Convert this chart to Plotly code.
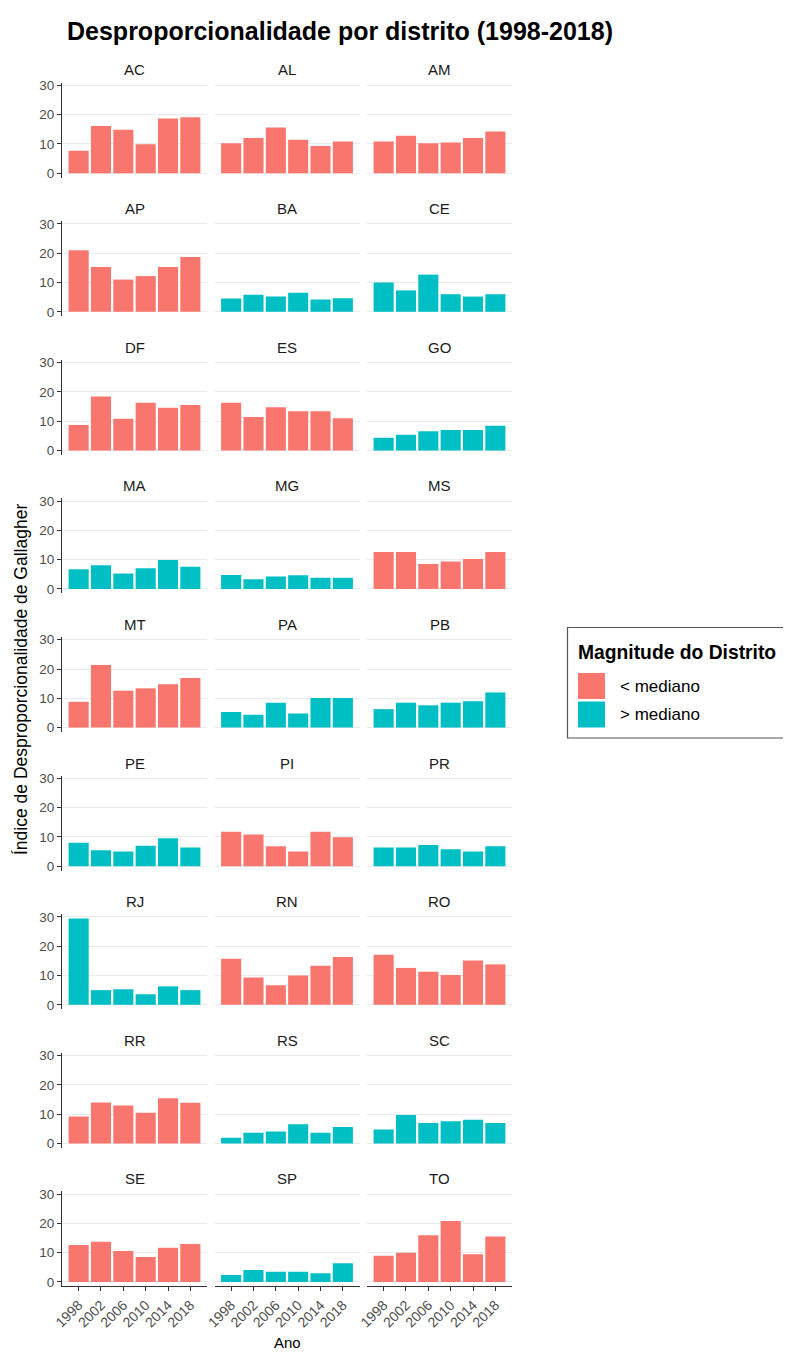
import plotly.graph_objects as go

# ---------------- data ----------------
years = [1998, 2002, 2006, 2010, 2014, 2018]
states = ["AC", "AL", "AM", "AP", "BA", "CE", "DF", "ES", "GO",
          "MA", "MG", "MS", "MT", "PA", "PB", "PE", "PI", "PR",
          "RJ", "RN", "RO", "RR", "RS", "SC", "SE", "SP", "TO"]
# magnitude group per state: "lt" = < mediano, "gt" = > mediano
magnitude = ["lt", "lt", "lt", "lt", "gt", "gt", "lt", "lt", "gt",
             "gt", "gt", "lt", "lt", "gt", "gt", "gt", "lt", "gt",
             "gt", "lt", "lt", "lt", "gt", "gt", "lt", "gt", "lt"]

ac = [7.7, 16.1, 14.8, 9.9, 18.7, 19.1]
al = [10.2, 12.0, 15.6, 11.4, 9.3, 10.8]
am = [10.8, 12.8, 10.2, 10.5, 12.0, 14.2]
ap = [21.0, 15.3, 11.0, 12.2, 15.3, 18.7]
ba = [4.5, 5.8, 5.2, 6.5, 4.2, 4.6]
ce = [10.0, 7.3, 12.7, 6.0, 5.2, 6.0]
df = [8.7, 18.4, 10.8, 16.3, 14.6, 15.5]
es = [16.3, 11.4, 14.7, 13.4, 13.4, 11.0]
go_ = [4.3, 5.3, 6.5, 7.0, 7.0, 8.4]
ma = [6.7, 8.1, 5.3, 7.1, 9.9, 7.6]
mg = [4.8, 3.3, 4.3, 4.7, 3.8, 3.8]
ms = [12.6, 12.6, 8.5, 9.4, 10.2, 12.6]
mt = [8.8, 21.4, 12.6, 13.4, 14.8, 16.9]
pa = [5.3, 4.4, 8.5, 4.8, 10.1, 10.1]
pb = [6.3, 8.5, 7.6, 8.5, 9.0, 12.0]
pe = [8.0, 5.4, 5.0, 7.0, 9.5, 6.4]
pi = [11.8, 10.8, 6.8, 5.0, 11.8, 9.9]
pr = [6.4, 6.4, 7.2, 5.8, 5.0, 6.8]
rj = [29.5, 5.0, 5.3, 3.6, 6.3, 5.0]
rn = [15.7, 9.3, 6.7, 10.0, 13.3, 16.3]
ro = [17.1, 12.6, 11.3, 10.2, 15.1, 13.8]
rr = [9.2, 14.0, 12.9, 10.5, 15.4, 13.9]
rs = [1.9, 3.6, 4.1, 6.5, 3.6, 5.6]
sc = [4.7, 9.7, 7.0, 7.6, 8.1, 7.0]
se = [12.6, 13.7, 10.6, 8.5, 11.7, 13.0]
sp = [2.4, 4.1, 3.5, 3.5, 3.0, 6.4]
to = [9.0, 10.0, 16.0, 20.8, 9.5, 15.5]

values = [ac, al, am, ap, ba, ce, df, es, go_, ma, mg, ms, mt, pa, pb,
          pe, pi, pr, rj, rn, ro, rr, rs, sc, se, sp, to]

group_labels = {"lt": "< mediano", "gt": "> mediano"}
y_ticks = [0, 10, 20, 30]
legend_title = "Magnitude do Distrito"
title_text = "Desproporcionalidade por distrito (1998-2018)"
y_title = "Índice de Desproporcionalidade de Gallagher"
x_title = "Ano"

# ---------------- styling / layout ----------------
# the page body keeps an 8px margin, so the figure is sized to fit inside it
OFF = 8
W, H = 791 - OFF, 1353 - OFF
colors = {"lt": "#F8766D", "gt": "#00BFC4"}
FONT = "Liberation Sans, Arial, sans-serif"

col_x = [(62, 207), (214.5, 359.5), (367, 512)]
row_top0, row_step, panel_h = 82.5, 138.6, 95.0
ncols = 3
nrows = 9

def fx(px):
    return (px - OFF) / W

def fy(py):
    return 1 - (py - OFF) / H

fig = go.Figure()
layout = {}
annotations = []

for i, st in enumerate(states):
    r, c = divmod(i, ncols)
    k = i + 1
    xa = "x" if k == 1 else f"x{k}"
    ya = "y" if k == 1 else f"y{k}"
    g = magnitude[i]
    fig.add_trace(go.Bar(
        x=years, y=values[i], width=3.6,
        marker=dict(color=colors[g], line=dict(width=0)),
        xaxis=xa, yaxis=ya, showlegend=False,
        hovertemplate=st + " %{x}: %{y}<extra></extra>",
    ))
    x0, x1 = col_x[c]
    top = row_top0 + r * row_step
    bot = top + panel_h
    bottom_row = (r == nrows - 1)
    left_col = (c == 0)
    xkey = "xaxis" if k == 1 else f"xaxis{k}"
    ykey = "yaxis" if k == 1 else f"yaxis{k}"
    layout[xkey] = dict(
        domain=[fx(x0), fx(x1)], anchor=ya, range=[1995.02, 2020.98],
        automargin=False,
        showgrid=False, zeroline=False,
        showline=bottom_row, linecolor="#333333", linewidth=1.2,
        ticks="outside" if bottom_row else "", ticklen=4, tickcolor="#333333",
        tickvals=years, ticktext=[str(v) for v in years],
        showticklabels=bottom_row, tickangle=-45,
        tickfont=dict(family=FONT, size=14, color="#4D4D4D"),
        fixedrange=True,
    )
    layout[ykey] = dict(
        domain=[fy(bot), fy(top)], anchor=xa, range=[-1.475, 30.975],
        automargin=False,
        showgrid=True, gridcolor="#EBEBEB", gridwidth=1,
        zeroline=False, tickvals=y_ticks,
        showline=left_col, linecolor="#333333", linewidth=1.2,
        ticks="outside" if left_col else "", ticklen=4, tickcolor="#333333",
        showticklabels=left_col,
        tickfont=dict(family=FONT, size=13.5, color="#4D4D4D"),
        fixedrange=True,
    )
    annotations.append(dict(
        text=st, x=fx((x0 + x1) / 2), y=fy(top - 12.5), xref="paper", yref="paper",
        showarrow=False, xanchor="center", yanchor="middle",
        font=dict(family=FONT, size=15, color="#1A1A1A"),
    ))

# axis titles
annotations.append(dict(
    text=y_title, x=fx(21), y=fy(680), xref="paper", yref="paper",
    showarrow=False, textangle=-90, xanchor="center", yanchor="middle",
    font=dict(family=FONT, size=17.5, color="#000000"),
))
annotations.append(dict(
    text=x_title, x=fx(287), y=fy(1342), xref="paper", yref="paper",
    showarrow=False, xanchor="center", yanchor="middle",
    font=dict(family=FONT, size=15, color="#000000"),
))

# legend (drawn manually to match ggplot key size)
shapes = [dict(type="rect", xref="paper", yref="paper",
               x0=fx(567.5), x1=fx(810), y0=fy(738), y1=fy(627.5),
               line=dict(color="#555555", width=1.2), fillcolor="white", layer="below")]
annotations.append(dict(
    text="<b>" + legend_title + "</b>", x=fx(576), y=fy(652), xref="paper", yref="paper",
    showarrow=False, xanchor="left", yanchor="middle",
    font=dict(family=FONT, size=19.3, color="#000000"),
))
for j, g in enumerate(["lt", "gt"]):
    yc = 686 + j * 28.5
    shapes.append(dict(type="rect", xref="paper", yref="paper",
                       x0=fx(578), x1=fx(605), y0=fy(yc + 13), y1=fy(yc - 13),
                       line=dict(width=0), fillcolor=colors[g]))
    annotations.append(dict(
        text=group_labels[g], x=fx(618), y=fy(yc), xref="paper", yref="paper",
        showarrow=False, xanchor="left", yanchor="middle",
        font=dict(family=FONT, size=17, color="#000000"),
    ))

# title as a paper annotation for exact placement
annotations.append(dict(
    text="<b>" + title_text + "</b>", x=fx(65), y=fy(31), xref="paper", yref="paper",
    showarrow=False, xanchor="left", yanchor="middle",
    font=dict(family=FONT, size=25, color="#000000"),
))

fig.update_layout(
    width=W, height=H,
    margin=dict(l=0, r=0, t=0, b=0, autoexpand=False),
    paper_bgcolor="white", plot_bgcolor="white",
    annotations=annotations, shapes=shapes,
    showlegend=False,
    **layout,
)

fig.write_html("out.html")
